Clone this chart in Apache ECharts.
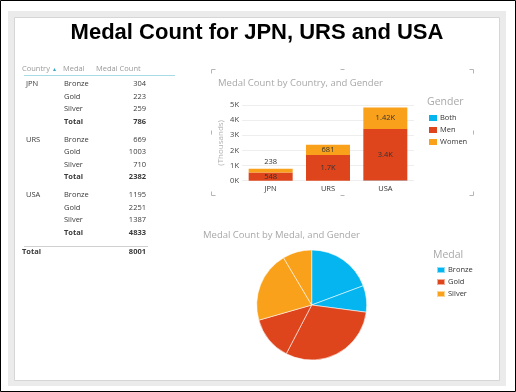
<!DOCTYPE html>
<html><head><meta charset="utf-8">
<script src="https://cdn.jsdelivr.net/npm/echarts@6/dist/echarts.min.js"></script>
<style>html,body{margin:0;padding:0;background:#fff}#c{width:516px;height:392px}</style>
</head><body><div id="c"></div>
<script>
// ---- data ----
const countries = ['JPN', 'URS', 'USA'];
const medals = ['Bronze', 'Gold', 'Silver'];
const jpnCounts = [304, 223, 259];
const ursCounts = [669, 1003, 710];
const usaCounts = [1195, 2251, 1387];
const genders = ['Both', 'Men', 'Women'];
const bothByCountry = [0, 0, 10];
const menByCountry = [548, 1701, 3403];
const womenByCountry = [238, 681, 1420];
const pieMedals = ['Bronze', 'Bronze', 'Gold', 'Gold', 'Silver', 'Silver'];
const pieGenders = ['Men', 'Women', 'Men', 'Women', 'Men', 'Women'];
const pieValues = [1545, 623, 2445, 1032, 1672, 684];
const yTickLabels = ['0K', '1K', '2K', '3K', '4K', '5K'];

// ---- styling ----
const C_BLUE = '#05B5EF', C_RED = '#DF451D', C_ORANGE = '#F9A11B';
const medalColors = {Bronze: C_BLUE, Gold: C_RED, Silver: C_ORANGE};
const FONT = '"Open Sans", "Noto Sans", sans-serif';

function fmtK(v) {
  if (v >= 1000) return parseFloat((v / 1000).toPrecision(3)) + 'K';
  return String(v);
}

// ---- table graphic ----
const g = [];
g.push({type:'rect', shape:{x:8,y:11,width:498,height:375}, style:{fill:'#ebebeb'}, silent:true, z:-10});
g.push({type:'rect', shape:{x:14.5,y:17.5,width:485,height:363}, style:{fill:'#fff', stroke:'#d6d6d6', lineWidth:1}, silent:true, z:-9});
g.push({type:'rect', shape:{x:0.5,y:0.5,width:515,height:391}, style:{fill:null, stroke:'#000', lineWidth:1}, silent:true, z:-8});

const tCol1 = 26, tCol2 = 64, tColR = 146;
const hdrStyle = {fill:'#9a9a9a', fontSize:7.5, fontFamily:FONT};
g.push({type:'text', x:22, y:69, style:Object.assign({text:'Country', verticalAlign:'middle'}, hdrStyle)});
g.push({type:'text', x:53, y:69, style:{text:'\u25B4', fill:'#3aa7c2', fontSize:6, verticalAlign:'middle', fontFamily:FONT}});
g.push({type:'text', x:63, y:69, style:Object.assign({text:'Medal', verticalAlign:'middle'}, hdrStyle)});
g.push({type:'text', x:96, y:69, style:Object.assign({text:'Medal Count', verticalAlign:'middle'}, hdrStyle)});
g.push({type:'line', shape:{x1:24,y1:75.5,x2:175,y2:75.5}, style:{stroke:'#a9dbe4', lineWidth:1}});

const countryCounts = [jpnCounts, ursCounts, usaCounts];
const rowStyle = {fill:'#3a3a3a', fontSize:7.5, fontFamily:FONT, verticalAlign:'middle'};
let y = 84, grand = 0;
countries.forEach((ct, ci) => {
  const arr = countryCounts[ci];
  g.push({type:'text', x:tCol1, y:y, style:Object.assign({text:ct}, rowStyle)});
  let tot = 0;
  medals.forEach((m, mi) => {
    g.push({type:'text', x:tCol2, y:y, style:Object.assign({text:m}, rowStyle)});
    g.push({type:'text', x:tColR, y:y, style:Object.assign({text:String(arr[mi]), align:'right'}, rowStyle)});
    tot += arr[mi];
    y += 12.5;
  });
  g.push({type:'text', x:tCol2, y:y, style:Object.assign({text:'Total', fontWeight:'bold'}, rowStyle)});
  g.push({type:'text', x:tColR, y:y, style:Object.assign({text:String(tot), align:'right', fontWeight:'bold'}, rowStyle)});
  grand += tot;
  y += 18;
});
g.push({type:'line', shape:{x1:24,y1:246.5,x2:148,y2:246.5}, style:{stroke:'#d0d0d0', lineWidth:1}});
g.push({type:'text', x:tCol1 - 4, y:252, style:Object.assign({text:'Total', fontWeight:'bold'}, rowStyle)});
g.push({type:'text', x:tColR, y:252, style:Object.assign({text:String(grand), align:'right', fontWeight:'bold'}, rowStyle)});

// main title
g.push({type:'text', x:257, y:33, style:{text:'Medal Count for JPN, URS and USA', fill:'#000', fontSize:22, fontWeight:'bold', fontFamily:'"Liberation Sans", Arial, sans-serif', align:'center', verticalAlign:'middle'}});

// sub titles
g.push({type:'text', x:218, y:83, style:{text:'Medal Count by Country, and Gender', fill:'#a8a8a8', fontSize:9.5, fontFamily:FONT, verticalAlign:'middle'}});
g.push({type:'text', x:203, y:235, style:{text:'Medal Count by Medal, and Gender', fill:'#a8a8a8', fontSize:9.5, fontFamily:FONT, verticalAlign:'middle'}});
// legend titles
g.push({type:'text', x:427, y:102, style:{text:'Gender', fill:'#a8a8a8', fontSize:10.5, fontFamily:FONT, verticalAlign:'middle'}});
g.push({type:'text', x:433, y:255, style:{text:'Medal', fill:'#a8a8a8', fontSize:10.5, fontFamily:FONT, verticalAlign:'middle'}});

// selection frame brackets around bar chart
const fL = 211.5, fR = 473.5, fT = 69.5, fB = 195.5, arm = 4;
const fs = {stroke:'#b5b5b5', lineWidth:1};
[[fL,fT,1,1],[fR,fT,-1,1],[fL,fB,1,-1],[fR,fB,-1,-1]].forEach(([x0,y0,dx,dy]) => {
  g.push({type:'polyline', shape:{points:[[x0+dx*arm,y0],[x0,y0],[x0,y0+dy*arm]]}, style:fs, silent:true});
});
const mx = (fL+fR)/2, my = (fT+fB)/2;
g.push({type:'line', shape:{x1:mx-2,y1:fT,x2:mx+2,y2:fT}, style:fs});
g.push({type:'line', shape:{x1:mx-2,y1:fB,x2:mx+2,y2:fB}, style:fs});
g.push({type:'line', shape:{x1:fL,y1:my-2,x2:fL,y2:my+2}, style:fs});
g.push({type:'line', shape:{x1:fR,y1:my-2,x2:fR,y2:my+2}, style:fs});

// ---- chart ----
const labelBase = {color:'#333', fontSize:7.5, fontFamily:FONT, formatter: p => fmtK(p.value)};
const womenData = womenByCountry.map(v => v < 400 ? {value:v, label:{position:'top'}} : v);

const chart = echarts.init(document.getElementById('c'), null, {renderer:'canvas'});
chart.setOption({
  animation:false,
  backgroundColor:'#fff',
  graphic: g,
  grid: {left:242, right:102, top:105, bottom:211.3, containLabel:false},
  legend: [{
    data: genders, orient:'vertical', left:424, top:109, itemWidth:8, itemHeight:6, itemGap:4,
    icon:'rect', textStyle:{color:'#333', fontSize:7.5, fontFamily:FONT, padding:[0,0,0,-2]}, selectedMode:false
  }, {
    data: medals, orient:'vertical', left:431, top:261, itemWidth:8, itemHeight:6, itemGap:4,
    icon:'rect', textStyle:{color:'#333', fontSize:7.5, fontFamily:FONT, padding:[0,0,0,-2]}, selectedMode:false
  }],
  xAxis: {
    type:'category', data: countries,
    axisLine:{show:false}, axisTick:{show:false},
    axisLabel:{color:'#333', fontSize:7.5, fontFamily:FONT, margin:4}
  },
  yAxis: {
    type:'value', min:0, max:5000, interval:1000,
    name:'(Thousands)', nameLocation:'middle', nameRotate:90, nameGap:17,
    nameTextStyle:{color:'#b0b0b0', fontSize:8, fontFamily:FONT},
    axisLabel:{color:'#444', fontSize:7.5, fontFamily:FONT, margin:3, formatter:(v) => yTickLabels[v/1000]},
    splitLine:{lineStyle:{color:'#eeeeee'}}, axisLine:{show:false}, axisTick:{show:false}
  },
  series: [
    {name:'Both', type:'bar', stack:'g', data: bothByCountry, barWidth:44, itemStyle:{color:C_BLUE}, label:{show:false}},
    {name:'Men', type:'bar', stack:'g', data: menByCountry, barWidth:44, itemStyle:{color:C_RED},
      label:Object.assign({show:true, position:'inside'}, labelBase)},
    {name:'Women', type:'bar', stack:'g', data: womenData, barWidth:44, itemStyle:{color:C_ORANGE},
      label:Object.assign({show:true, position:'inside', distance:3}, labelBase)},
    {name:'Medal', type:'pie', center:[311.7, 305], radius:55, startAngle:90, clockwise:true,
      label:{show:false}, labelLine:{show:false}, emphasis:{disabled:true},
      itemStyle:{borderColor:'rgba(255,255,255,0.55)', borderWidth:1},
      data: pieValues.map((v, i) => ({value:v, name:pieMedals[i], gender:pieGenders[i], itemStyle:{color:medalColors[pieMedals[i]]}}))
    }
  ]
});
</script></body></html>
